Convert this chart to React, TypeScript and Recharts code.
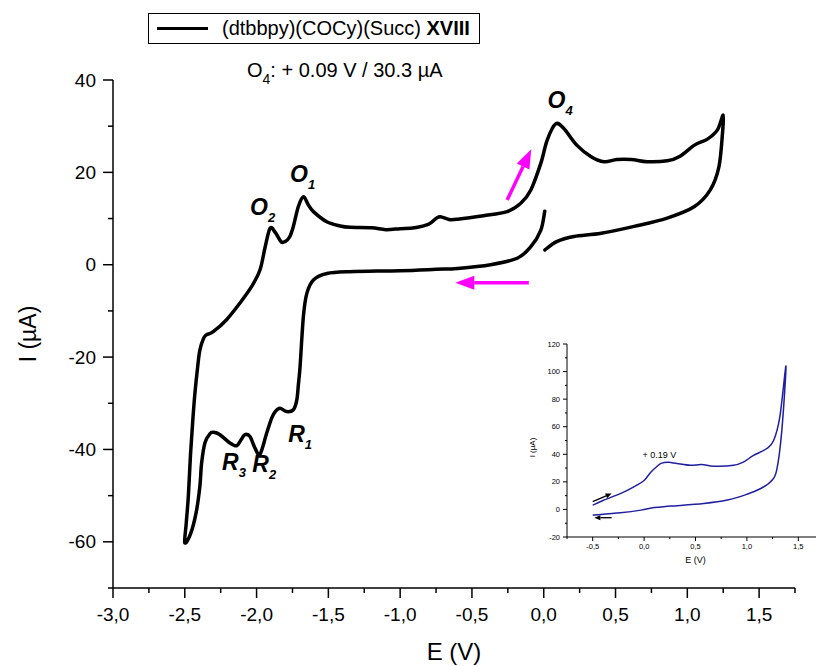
import React from 'react';
import { LineChart, Line, XAxis, YAxis, ReferenceLine, ReferenceDot, Label } from 'recharts';

const FONT = '"Liberation Sans", Arial, Helvetica, sans-serif';

// ---------- main cyclic voltammogram (E in V, I in µA), in scan order ----------
const mainE = [
  0.007, -0.02, -0.09, -0.185, -0.37, -0.6, -0.75, -1.0, -1.35, -1.51,
  -1.604, -1.65, -1.674, -1.697, -1.709, -1.72, -1.744, -1.79, -1.837, -1.87,
  -1.895, -1.93, -1.976, -2.011, -2.046, -2.081, -2.11, -2.139, -2.186, -2.255,
  -2.3, -2.325, -2.36, -2.383, -2.395, -2.42, -2.46, -2.5,
  -2.49, -2.475, -2.46, -2.445, -2.43, -2.41, -2.395, -2.37, -2.35,
  -2.302, -2.209, -2.116, -2.034, -1.976, -1.94, -1.906, -1.87, -1.83, -1.802,
  -1.77, -1.744, -1.709, -1.674, -1.64, -1.604, -1.511, -1.418, -1.348, -1.2,
  -1.1, -1.0, -0.9, -0.8, -0.75, -0.72, -0.66, -0.6, -0.42, -0.255,
  -0.16, -0.09, -0.02, 0.024, 0.083, 0.14, 0.23, 0.33, 0.42, 0.51,
  0.61, 0.72, 0.86, 0.95, 1.05, 1.14, 1.21, 1.25,
  1.245, 1.22, 1.16, 1.05, 0.86, 0.63, 0.4, 0.21, 0.09, 0.008,
];
const mainI = [
  11.6, 7.5, 3.9, 1.4, 0.0, -0.8, -1.0, -1.3, -1.5, -1.9,
  -3.3, -6.2, -11.2, -22, -26, -29.3, -31.4, -31.8, -31.1, -31.8,
  -33.2, -36.5, -41.0, -39.7, -37.2, -36.8, -38.0, -39.2, -38.6, -36.8,
  -36.3, -36.6, -38.6, -43, -48, -53.5, -58.3, -60.2,
  -56, -50, -41, -34, -28, -22, -18.5, -16, -15.2,
  -14.5, -11.9, -8.3, -4.7, -1.1, 3.9, 7.9, 7.0, 5.0, 5.0,
  6.0, 8.3, 12.6, 14.7, 13.0, 11.5, 9.3, 8.4, 8.1, 8.0,
  7.6, 7.8, 8.0, 8.8, 10.0, 10.4, 9.8, 9.85, 10.6, 11.5,
  13.3, 16.2, 22.0, 27.0, 30.5, 29.5, 25.9, 23.4, 22.3, 22.8,
  22.8, 22.3, 22.5, 23.5, 25.9, 27.2, 29.2, 32.4,
  28.5, 21.2, 16.2, 12.6, 10.1, 8.3, 6.8, 6.1, 5.0, 3.2,
];

// ---------- inset voltammogram ----------
const insetE = [
  -0.5, -0.4, -0.226, -0.1, 0.0, 0.065, 0.13, 0.17, 0.24, 0.32, 0.45,
  0.56, 0.68, 0.87, 0.97, 1.06, 1.19, 1.26, 1.32, 1.38,
  1.34, 1.29, 1.23, 1.13, 1.0, 0.81, 0.58, 0.26, 0.1, -0.03, -0.23, -0.5,
];
const insetI = [
  3.1, 6.5, 11.6, 16.4, 21, 27, 31.5, 33.6, 34.2, 33.3, 32,
  32.6, 31.4, 32, 34.5, 39, 44, 50, 67, 104,
  57.5, 28.5, 20, 15, 11, 6.8, 4.3, 2.4, 1.4, -0.5, -2.4, -4.1,
];

// ---------- ticks ----------
const mainXTicks = [-3, -2.75, -2.5, -2.25, -2, -1.75, -1.5, -1.25, -1, -0.75, -0.5, -0.25, 0, 0.25, 0.5, 0.75, 1, 1.25, 1.5, 1.75];
const mainXMajor = [-3, -2.5, -2, -1.5, -1, -0.5, 0, 0.5, 1, 1.5];
const mainXLabels = ['-3,0', '-2,5', '-2,0', '-1,5', '-1,0', '-0,5', '0,0', '0,5', '1,0', '1,5'];
const mainYTicks = [-70, -60, -50, -40, -30, -20, -10, 0, 10, 20, 30, 40];
const mainYMajor = [-60, -40, -20, 0, 20, 40];
const mainYLabels = ['-60', '-40', '-20', '0', '20', '40'];

const insetXTicks = [-0.75, -0.5, -0.25, 0, 0.25, 0.5, 0.75, 1, 1.25, 1.5, 1.75];
const insetXMajor = [-0.5, 0, 0.5, 1, 1.5];
const insetXLabels = ['-0,5', '0,0', '0,5', '1,0', '1,5'];
const insetYTicks = [-20, -10, 0, 10, 20, 30, 40, 50, 60, 70, 80, 90, 100, 110, 120];
const insetYMajor = [-20, 0, 20, 40, 60, 80, 100, 120];
const insetYLabels = ['-20', '0', '20', '40', '60', '80', '100', '120'];

// ---------- annotations ----------
const peakLabels = [
  { name: 'O', sub: '1', e: -1.767, i: 17.9 },
  { name: 'O', sub: '2', e: -2.045, i: 10.8 },
  { name: 'R', sub: '1', e: -1.78, i: -38.4 },
  { name: 'R', sub: '3', e: -2.24, i: -44.4 },
  { name: 'R', sub: '2', e: -2.03, i: -44.8 },
  { name: 'O', sub: '4', e: 0.027, i: 33.9 },
];
const scanArrows = [
  { from: { e: -0.255, i: 14.0 }, to: { e: -0.087, i: 25.0 } },
  { from: { e: -0.104, i: -3.9 }, to: { e: -0.616, i: -3.9 } },
];
const insetArrows = [
  { from: { e: -0.5, i: 5.6 }, to: { e: -0.316, i: 11.6 } },
  { from: { e: -0.316, i: -6 }, to: { e: -0.484, i: -6 } },
];
const insetNote = { text: '+ 0.19 V', e: -0.015, i: 37 };

const mainData = mainE.map((e, k) => ({ e, i: mainI[k] }));
const insetData = insetE.map((e, k) => ({ e, i: insetI[k] }));

// smooth parametric curve through the points (uniform Catmull-Rom), works for loops
const catmullRom = (context: any) => {
  let pts: number[][] = [];
  return {
    areaStart() {},
    areaEnd() {},
    lineStart() {
      pts = [];
    },
    lineEnd() {
      const n = pts.length;
      if (!n) return;
      context.moveTo(pts[0][0], pts[0][1]);
      for (let k = 0; k < n - 1; k++) {
        const p0 = pts[k - 1] || pts[k];
        const p1 = pts[k];
        const p2 = pts[k + 1];
        const p3 = pts[k + 2] || p2;
        const c1x = p1[0] + (p2[0] - p0[0]) / 6;
        const c1y = p1[1] + (p2[1] - p0[1]) / 6;
        const c2x = p2[0] - (p3[0] - p1[0]) / 6;
        const c2y = p2[1] - (p3[1] - p1[1]) / 6;
        context.bezierCurveTo(c1x, c1y, c2x, c2y, p2[0], p2[1]);
      }
    },
    point(x: number, y: number) {
      pts.push([x, y]);
    },
  };
};

const makeXTick = (major: number[], labels: string[], big: number, small: number, dy: number, fs: number, sw: number) =>
  (props: any) => {
    const { x, y, payload } = props;
    const idx = major.indexOf(payload.value);
    const isMajor = idx >= 0;
    return (
      <g>
        <line x1={x} x2={x} y1={y} y2={y + (isMajor ? big : small)} stroke="#000" strokeWidth={sw} />
        {isMajor && (
          <text x={x} y={y + dy} textAnchor="middle" fontSize={fs} fill="#000" fontFamily={FONT}>
            {labels[idx]}
          </text>
        )}
      </g>
    );
  };

const makeYTick = (major: number[], labels: string[], big: number, small: number, dx: number, fs: number, sw: number) =>
  (props: any) => {
    const { x, y, payload } = props;
    const idx = major.indexOf(payload.value);
    const isMajor = idx >= 0;
    return (
      <g>
        <line x1={x - (isMajor ? big : small)} x2={x} y1={y} y2={y} stroke="#000" strokeWidth={sw} />
        {isMajor && (
          <text x={x - dx} y={y} dy="0.35em" textAnchor="end" fontSize={fs} fill="#000" fontFamily={FONT}>
            {labels[idx]}
          </text>
        )}
      </g>
    );
  };

const arrowShape = (color: string, width: number, headLen: number, headHalf: number) => (p: any) => {
  const { x1, y1, x2, y2 } = p;
  const ang = Math.atan2(y2 - y1, x2 - x1);
  const bx = x2 - headLen * Math.cos(ang);
  const by = y2 - headLen * Math.sin(ang);
  const px = -Math.sin(ang) * headHalf;
  const py = Math.cos(ang) * headHalf;
  return (
    <g>
      <line x1={x1} y1={y1} x2={bx} y2={by} stroke={color} strokeWidth={width} />
      <polygon points={`${x2},${y2} ${bx + px},${by + py} ${bx - px},${by - py}`} fill={color} />
    </g>
  );
};

const peakShape = (name: string, sub: string) => (p: any) => (
  <text x={p.cx} y={p.cy} fontSize={23} fontWeight="bold" fontStyle="italic" fill="#000" fontFamily={FONT}>
    {name}
    <tspan fontSize={13} dy={7}>{sub}</tspan>
  </text>
);

const MainXTick = makeXTick(mainXMajor, mainXLabels, 10, 5, 33, 19, 1.5);
const MainYTick = makeYTick(mainYMajor, mainYLabels, 10, 5, 17, 19, 1.5);
const InsetXTick = makeXTick(insetXMajor, insetXLabels, 4, 2, 12, 7.5, 1);
const InsetYTick = makeYTick(insetYMajor, insetYLabels, 4, 2, 7, 7.5, 1);

export default function App() {
  return (
    <div style={{ position: 'fixed', left: 0, top: 0, width: 816, height: 666, overflow: 'hidden', background: '#fff', fontFamily: FONT }}>
      <div style={{ position: 'absolute', left: 0, top: 0 }}>
        <LineChart width={816} height={666} data={mainData} margin={{ top: 80, right: 21, bottom: 0, left: 0 }}>
          <XAxis
            type="number"
            dataKey="e"
            domain={[-3, 1.75]}
            ticks={mainXTicks}
            interval={0}
            tick={<MainXTick />}
            tickLine={false}
            tickSize={0}
            tickMargin={0}
            height={78}
            axisLine={{ stroke: '#000', strokeWidth: 1.5 }}
          >
            <Label
              content={(p: any) => {
                const vb = p.viewBox;
                return (
                  <text x={vb.x + vb.width / 2} y={vb.y + 64} dy="0.35em" textAnchor="middle" fontSize={24} fill="#000" fontFamily={FONT}>
                    E (V)
                  </text>
                );
              }}
            />
          </XAxis>
          <YAxis
            type="number"
            dataKey="i"
            domain={[-70, 40]}
            ticks={mainYTicks}
            interval={0}
            tick={<MainYTick />}
            tickLine={false}
            tickSize={0}
            tickMargin={0}
            width={113}
            axisLine={{ stroke: '#000', strokeWidth: 1.5 }}
          >
            <Label
              content={(p: any) => {
                const vb = p.viewBox;
                const cx = vb.x + 28;
                const cy = vb.y + vb.height / 2;
                return (
                  <text x={cx} y={cy} dy="0.35em" textAnchor="middle" fontSize={23} fill="#000" fontFamily={FONT} transform={`rotate(-90 ${cx} ${cy})`}>
                    I (µA)
                  </text>
                );
              }}
            />
          </YAxis>
          <Line type={catmullRom as any} dataKey="i" stroke="#000" strokeWidth={3.5} dot={false} isAnimationActive={false} strokeLinejoin="round" strokeLinecap="round" />
          {scanArrows.map((a, k) => (
            <ReferenceLine
              key={'sa' + k}
              segment={[{ x: a.from.e, y: a.from.i }, { x: a.to.e, y: a.to.i }]}
              shape={arrowShape('#ff00ff', 3.5, 19, 7)}
              ifOverflow="visible"
            />
          ))}
          {peakLabels.map((l, k) => (
            <ReferenceDot key={'pl' + k} x={l.e} y={l.i} r={0} shape={peakShape(l.name, l.sub)} ifOverflow="visible" />
          ))}
        </LineChart>
      </div>

      {/* legend */}
      <div style={{ position: 'absolute', left: 148, top: 13, width: 332, height: 31, border: '1.5px solid #000', boxSizing: 'border-box', background: '#fff' }}>
        <div style={{ position: 'absolute', left: 8, top: 13, width: 51, height: 3, background: '#000' }} />
        <div style={{ position: 'absolute', left: 73, top: 3, fontSize: 20, lineHeight: '23px', whiteSpace: 'nowrap', color: '#000' }}>
          (dtbbpy)(COCy)(Succ) <b>XVIII</b>
        </div>
      </div>
      <div style={{ position: 'absolute', left: 247, top: 59, fontSize: 20, lineHeight: '23px', whiteSpace: 'nowrap', color: '#000' }}>
        O<sub style={{ fontSize: 14, verticalAlign: -7 }}>4</sub>: + 0.09 V / 30.3 µA
      </div>

      {/* inset */}
      <div style={{ position: 'absolute', left: 510, top: 330 }}>
        <LineChart width={330} height={240} data={insetData} margin={{ top: 14, right: 16, bottom: 0, left: 0 }}>
          <XAxis
            type="number"
            dataKey="e"
            domain={[-0.75, 1.75]}
            ticks={insetXTicks}
            interval={0}
            tick={<InsetXTick />}
            tickLine={false}
            tickSize={0}
            tickMargin={0}
            height={33}
            axisLine={{ stroke: '#000', strokeWidth: 1 }}
          >
            <Label
              content={(p: any) => {
                const vb = p.viewBox;
                return (
                  <text x={vb.x + vb.width / 2} y={vb.y + 23} dy="0.35em" textAnchor="middle" fontSize={9} fill="#000" fontFamily={FONT}>
                    E (V)
                  </text>
                );
              }}
            />
          </XAxis>
          <YAxis
            type="number"
            dataKey="i"
            domain={[-20, 120]}
            ticks={insetYTicks}
            interval={0}
            tick={<InsetYTick />}
            tickLine={false}
            tickSize={0}
            tickMargin={0}
            width={57}
            axisLine={{ stroke: '#000', strokeWidth: 1 }}
          >
            <Label
              content={(p: any) => {
                const vb = p.viewBox;
                const cx = vb.x + 22;
                const cy = vb.y + vb.height / 2 + 7;
                return (
                  <text x={cx} y={cy} dy="0.35em" textAnchor="middle" fontSize={8} fill="#000" fontFamily={FONT} transform={`rotate(-90 ${cx} ${cy})`}>
                    I (µA)
                  </text>
                );
              }}
            />
          </YAxis>
          <Line type={catmullRom as any} dataKey="i" stroke="#1f1fa0" strokeWidth={1.5} dot={false} isAnimationActive={false} strokeLinejoin="round" />
          {insetArrows.map((a, k) => (
            <ReferenceLine
              key={'ia' + k}
              segment={[{ x: a.from.e, y: a.from.i }, { x: a.to.e, y: a.to.i }]}
              shape={arrowShape('#000', 1.3, 6, 2.5)}
              ifOverflow="visible"
            />
          ))}
          <ReferenceDot
            x={insetNote.e}
            y={insetNote.i}
            r={0}
            ifOverflow="visible"
            shape={(p: any) => (
              <text x={p.cx} y={p.cy} fontSize={9} fill="#000" fontFamily={FONT}>
                {insetNote.text}
              </text>
            )}
          />
        </LineChart>
      </div>
    </div>
  );
}
